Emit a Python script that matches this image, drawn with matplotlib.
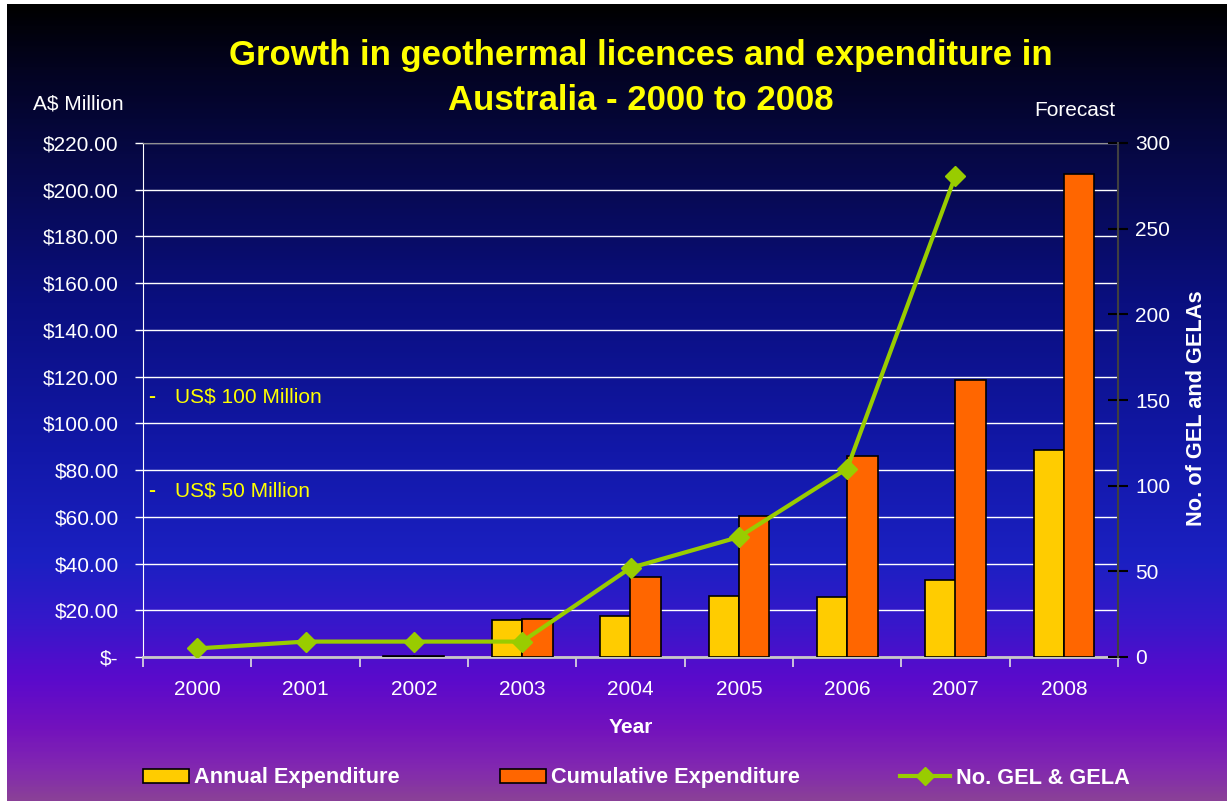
import numpy as np
import matplotlib
matplotlib.use('Agg')
import matplotlib.pyplot as plt
from matplotlib.colors import LinearSegmentedColormap
from matplotlib.lines import Line2D
from matplotlib.patches import Patch

plt.rcParams['text.parse_math'] = False
plt.rcParams['font.family'] = ['Liberation Sans', 'DejaVu Sans']

# ---------------- data ----------------
years = ['2000', '2001', '2002', '2003', '2004', '2005', '2006', '2007', '2008']
annual_exp = [0, 0, 0.4, 15.8, 17.6, 26.1, 25.7, 33.0, 88.6]
cumulative_exp = [0, 0, 0.4, 16.4, 34.2, 60.4, 86.0, 118.6, 206.8]
licence_years = ['2000', '2001', '2002', '2003', '2004', '2005', '2006', '2007']
licences = [5, 9, 9, 9, 52, 70, 110, 281]
usd_marks = [111.3, 71.1]
usd_labels = ['US$ 100 Million', 'US$ 50 Million']

W, H = 1231, 801
fig = plt.figure(figsize=(W / 100, H / 100), dpi=100, facecolor='white')

# ---------------- background gradient ----------------
bg = fig.add_axes([0, 0, 1, 1], zorder=-10)
bg.set_xlim(0, W)
bg.set_ylim(H, 0)
bg.axis('off')
stops = [(0, '#000000'), (60, '#03031f'), (150, '#060845'), (300, '#0a0f80'),
         (450, '#1218a8'), (560, '#1b20c2'), (620, '#3518ca'), (680, '#5a0acc'),
         (730, '#7312bd'), (770, '#8228b0'), (801, '#8a4098')]
cmap = LinearSegmentedColormap.from_list('bgc', [(p / 801, c) for p, c in stops])
grad = np.linspace(0, 1, 400).reshape(-1, 1)
bg.imshow(grad, cmap=cmap, aspect='auto', extent=(7, W - 4, H, 4), interpolation='bilinear')

# ---------------- main axes ----------------
ax = fig.add_axes([143 / W, 1 - 657 / H, 975 / W, 514 / H])
ax.set_facecolor('none')
x = np.arange(len(years))
bw = 0.28
ec_a = ['black' if v > 0 else 'none' for v in annual_exp]
ec_c = ['black' if v > 0 else 'none' for v in cumulative_exp]
ax.bar(x - bw / 2, annual_exp, width=bw, color='#ffcc00', edgecolor=ec_a, linewidth=1.2, zorder=3)
ax.bar(x + bw / 2, cumulative_exp, width=bw, color='#ff6600', edgecolor=ec_c, linewidth=1.2, zorder=3)

ax.set_xlim(-0.5, len(years) - 0.5)
ax.set_ylim(0, 220)
yt = np.arange(0, 221, 20)
ax.set_yticks(yt)
ax.set_yticklabels(['$-' if v == 0 else '${:.2f}'.format(v) for v in yt])
ax.yaxis.grid(True, color='white', linewidth=1.0, zorder=0)
ax.set_axisbelow(True)
ax.tick_params(axis='y', colors='white', labelcolor='white', labelsize=15, length=6, width=1, pad=11.5)
ax.set_xticks(x)
ax.set_xticklabels(years)
ax.set_xticks(np.arange(-0.5, len(years)), minor=True)
ax.tick_params(axis='x', which='major', length=0, labelsize=15, labelcolor='white', pad=16.5)
ax.tick_params(axis='x', which='minor', length=7, width=1.2, color='#e0e0e0')
ax.set_xlabel('Year', color='white', fontsize=15, fontweight='bold', labelpad=14)
ax.spines['left'].set_color('white')
ax.spines['top'].set_color('#909090')
ax.spines['bottom'].set_color('#c8c8c8')
ax.spines['bottom'].set_linewidth(2)
ax.spines['right'].set_visible(False)

for yv, lab in zip(usd_marks, usd_labels):
    ax.text(-0.455, yv, '-', color='#ffff00', fontsize=15, fontweight='bold', va='center', ha='left')
    ax.text(-0.205, yv, lab, color='#ffff00', fontsize=15, va='center', ha='left')

# ---------------- secondary axis ----------------
ax2 = ax.twinx()
ax2.set_ylim(0, 300)
ax2.set_yticks(np.arange(0, 301, 50))
ax2.tick_params(axis='y', direction='inout', length=14, width=1.5, color='black',
                labelcolor='white', labelsize=15, pad=5.5)
for s in ['left', 'top', 'bottom']:
    ax2.spines[s].set_visible(False)
ax2.spines['right'].set_color('#404040')
ax2.spines['right'].set_linewidth(1.5)
ax2.plot(np.arange(len(licence_years)), licences, color='#99cc00', linewidth=3,
         marker='D', markersize=10.5, zorder=5)
ax2.set_ylabel('No. of GEL and GELAs', color='white', fontsize=15.7, fontweight='bold')
ax2.yaxis.set_label_coords((1197 - 143) / 975, (657 - 408) / 514)
ax2.yaxis.label.set_va('center')

# ---------------- texts ----------------
fig.text(641 / W, 1 - 65 / H, 'Growth in geothermal licences and expenditure in',
         color='#ffff00', fontsize=25, fontweight='bold', ha='center', va='baseline')
fig.text(641 / W, 1 - 110 / H, 'Australia - 2000 to 2008',
         color='#ffff00', fontsize=25, fontweight='bold', ha='center', va='baseline')
fig.text(33 / W, 1 - 104 / H, 'A$ Million', color='white', fontsize=15, ha='left', va='center')
fig.text(1115 / W, 1 - 110 / H, 'Forecast', color='white', fontsize=15, ha='right', va='center')

# ---------------- legend ----------------
leg_fs = 15.7
items = [
    (Patch(facecolor='#ffcc00', edgecolor='black', linewidth=1.2), 'Annual Expenditure', 143, 2.1),
    (Patch(facecolor='#ff6600', edgecolor='black', linewidth=1.2), 'Cumulative Expenditure', 500, 2.1),
    (Line2D([0], [0], color='#99cc00', linewidth=3, marker='D', markersize=9), 'No. GEL & GELA', 900, 2.3),
]
for h, lab, px, hl in items:
    lg = fig.legend([h], [lab], loc='center left', bbox_to_anchor=(px / W, 1 - 778 / H),
                    frameon=False, borderpad=0, borderaxespad=0, handlelength=hl,
                    handleheight=0.64, handletextpad=0.26,
                    prop={'size': leg_fs, 'weight': 'bold'})
    for t in lg.get_texts():
        t.set_color('white')

fig.savefig('out.png', dpi=100, facecolor=fig.get_facecolor())
